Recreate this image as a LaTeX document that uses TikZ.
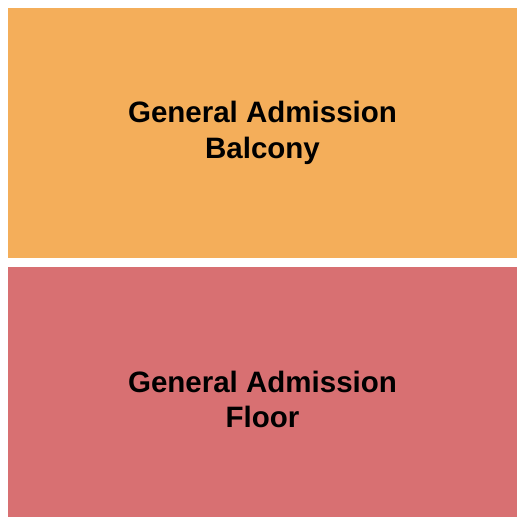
\documentclass[tikz,border=0pt]{standalone}
\usepackage{fontspec}
\setmainfont{Liberation Sans}
\definecolor{balc}{HTML}{F4AE5A}
\definecolor{flr}{HTML}{D87072}
\begin{document}
\begin{tikzpicture}[x=1pt,y=-1pt,
  section/.style={draw=none},
  lbl/.style={anchor=base,inner sep=0pt,font=\fontsize{29.5}{36}\selectfont\bfseries,text=black}]
\useasboundingbox (0,0) rectangle (525,525);
\fill[white] (0,0) rectangle (525,525);
\fill[balc] (8,8) rectangle (517,258);
\fill[flr] (8,267) rectangle (517,517);
\node[lbl] (b1) at (262.5,122) {General Admission};
\node[lbl] (b2) at (262.5,158) {Balcony};
\node[lbl] (f1) at (262.5,392) {General Admission};
\node[lbl] (f2) at (262.5,427) {Floor};
\end{tikzpicture}
\end{document}
